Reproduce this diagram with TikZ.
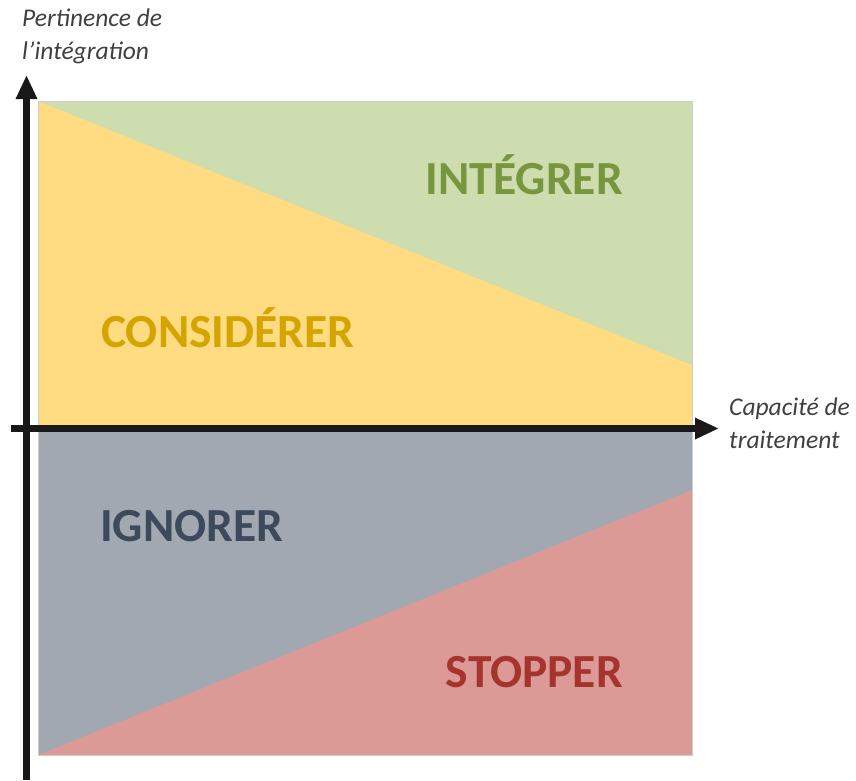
\documentclass[tikz,border=0pt]{standalone}
\usepackage{fontspec}
\setmainfont{Carlito}
\usetikzlibrary{arrows.meta,positioning}
\definecolor{zoneInt}{HTML}{CEDDAF}
\definecolor{zoneCons}{HTML}{FFDC82}
\definecolor{zoneIgn}{HTML}{A1A8B2}
\definecolor{zoneStop}{HTML}{DC9A96}
\definecolor{txtInt}{HTML}{77963E}
\definecolor{txtCons}{HTML}{D4A400}
\definecolor{txtIgn}{HTML}{3C4A5C}
\definecolor{txtStop}{HTML}{A6342E}
\colorlet{axisLbl}{black!75}

\begin{document}
\begin{tikzpicture}[x=1pt, y=-1pt,
    axis/.style={line width=7pt, black!90, -{Triangle[length=24pt,width=20pt]}},
    zone/.style={font=\fontsize{47.5}{47.5}\selectfont\bfseries, inner sep=0pt},
    axislabel/.style={font=\fontsize{25.5}{33}\selectfont\itshape, axisLbl, inner sep=0pt, align=left}]
        \useasboundingbox (0,0) rectangle (856,780);
        % Corners of the field
        \coordinate (TL) at (38,101);
        \coordinate (TR) at (692,101);
        \coordinate (ML) at (38,428);
        \coordinate (MR) at (692,428);
        \coordinate (BL) at (38,755);
        \coordinate (BR) at (692,755);
        % Upper half: consider / integrate
        \fill[zoneCons] (TL) rectangle (MR);
        \fill[zoneInt] (TL) -- (TR) -- (692,365) -- cycle;
        % Lower half: ignore / stop
        \fill[zoneIgn] (ML) rectangle (BR);
        \fill[zoneStop] (BL) -- (BR) -- (692,490) -- cycle;
        \draw[black!20, line width=0.6pt] (TL) rectangle (BR);
        % Axes
        \coordinate (xS) at (11,428.5);
        \coordinate (xE) at (719,428.5);
        \coordinate (yS) at (26.5,780);
        \coordinate (yE) at (26.5,75);
        \draw[axis] (yS) -- (yE);
        \draw[axis] (xS) -- (xE);
        % Zone names
        \node[zone, txtInt, anchor=base east] (integrer) at (623,194) {INTÉGRER};
        \node[zone, txtCons, anchor=base west] (considerer) at (101,347) {CONSIDÉRER};
        \node[zone, txtIgn, anchor=base west] (ignorer) at (100,541) {IGNORER};
        \node[zone, txtStop, anchor=base east] (stopper) at (623,687) {STOPPER};
        % Axis names
        \node[axislabel, anchor=north west] (ylbl) at (22,9) {Pertinence de\\l’intégration};
        \node[axislabel, anchor=north west] (xlbl) at (729,398) {Capacité de\\traitement};
      \end{tikzpicture}
\end{document}
